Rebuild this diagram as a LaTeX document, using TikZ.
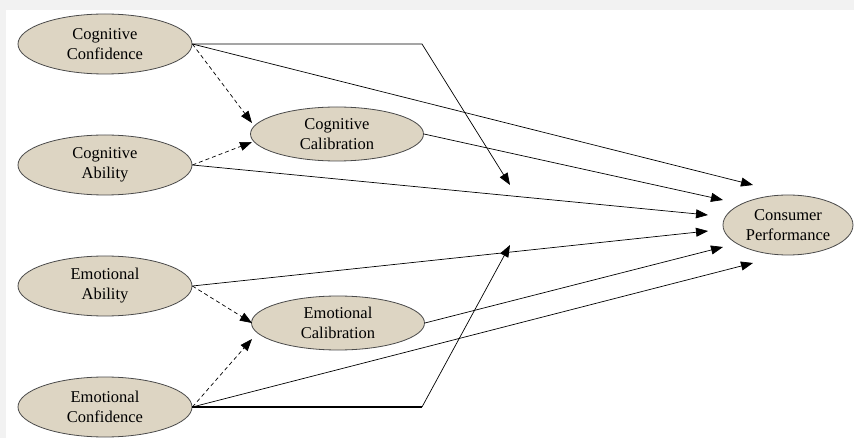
\documentclass[tikz,border=0pt]{standalone}
\usepackage{fontspec}
\setmainfont{Liberation Serif}
\usetikzlibrary{shapes.geometric,arrows.meta}
\definecolor{nodefill}{HTML}{DDD5C3}
\definecolor{nodeedge}{HTML}{4A4A4A}
\definecolor{margingray}{HTML}{F2F2F2}
\tikzset{
  construct/.style={ellipse, draw=nodeedge, line width=0.8pt, fill=nodefill, inner sep=0pt,
    align=center, font=\fontsize{16.5}{20}\selectfont},
  wide/.style={construct, minimum width=174pt, minimum height=60pt},
  mid/.style={construct, minimum width=173pt, minimum height=54pt},
  target/.style={construct, minimum width=130pt, minimum height=60pt},
  link/.style={draw=black, line width=0.7pt, -{Triangle[length=12pt,width=9pt]}},
  dashlink/.style={link, dash pattern=on 4pt off 3pt},
  thickline/.style={draw=black, line width=1.6pt}
}
\begin{document}
\begin{tikzpicture}[x=1pt,y=-1pt]
\useasboundingbox (0,0) rectangle (854,438);
\fill[margingray] (0,0) rectangle (854,438);
\fill[white] (6,10) rectangle (854,438);

\node[wide] (CC) at (105,44) {Cognitive\\Confidence};
\node[wide] (CA) at (105,165) {Cognitive\\Ability};
\node[wide] (EA) at (105,286) {Emotional\\Ability};
\node[wide] (EC) at (105,407) {Emotional\\Confidence};
\node[mid] (CCal) at (337,134) {Cognitive\\Calibration};
\node[mid] (ECal) at (338,323) {Emotional\\Calibration};
\node[target] (CP) at (788,225) {Consumer\\Performance};

% free ends / bends
\coordinate (bendTop) at (422,44);
\coordinate (tipTop) at (510,185);
\coordinate (bendBot) at (422,407);
\coordinate (tipBot) at (510,245);
\coordinate (t1) at (753,185);
\coordinate (t2) at (723,200);
\coordinate (t3) at (708,215);
\coordinate (t4) at (708,231);
\coordinate (t5) at (723,247);
\coordinate (t6) at (753,263);
\coordinate (d1) at (252,123);
\coordinate (d2) at (252,142);
\coordinate (d3) at (252,323);
\coordinate (d4) at (252,339);

% solid paths
\draw[link] (CC.east) -- (bendTop) -- (tipTop);
\draw[link] (CC.east) -- (t1);
\draw[link] (CCal.east) -- (t2);
\draw[link] (CA.east) -- (t3);
\draw[link] (EA.east) -- (t4);
\draw[link] (ECal.east) -- (t5);
\draw[link] (EC.east) -- (t6);
\draw[thickline] (EC.east) -- (bendBot);
\draw[link] (bendBot) -- (tipBot);

% dashed paths
\draw[dashlink] (CC.east) -- (d1);
\draw[dashlink] (CA.east) -- (d2);
\draw[dashlink] (EA.east) -- (d3);
\draw[dashlink] (EC.east) -- (d4);
\end{tikzpicture}
\end{document}
